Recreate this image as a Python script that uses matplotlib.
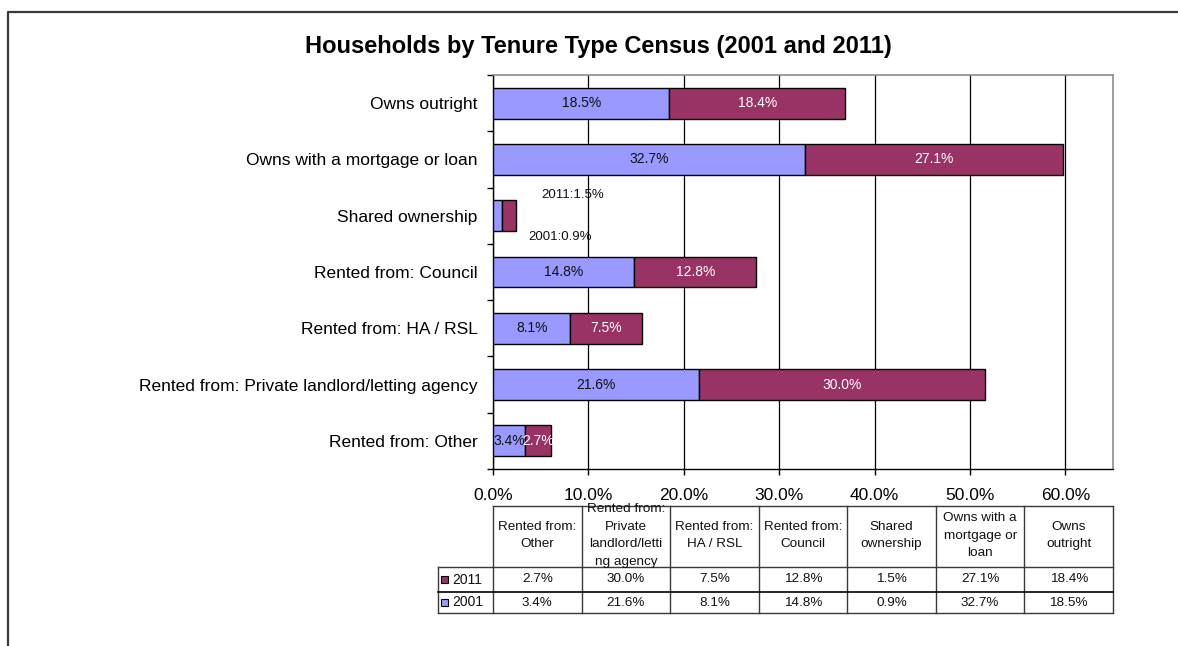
import matplotlib
matplotlib.use("Agg")
import matplotlib.pyplot as plt
from matplotlib.patches import Rectangle
import numpy as np

plt.rcParams['font.family'] = ['Liberation Sans', 'DejaVu Sans']

# ---- data -------------------------------------------------------------
categories = ["Owns outright", "Owns with a mortgage or loan", "Shared ownership",
              "Rented from: Council", "Rented from: HA / RSL",
              "Rented from: Private landlord/letting agency", "Rented from: Other"]
share_2001 = [18.5, 32.7, 0.9, 14.8, 8.1, 21.6, 3.4]
share_2011 = [18.4, 27.1, 1.5, 12.8, 7.5, 30.0, 2.7]
years = ["2011", "2001"]
table_headers = ["Rented from:\nOther",
                 "Rented from:\nPrivate\nlandlord/letti\nng agency",
                 "Rented from:\nHA / RSL", "Rented from:\nCouncil",
                 "Shared\nownership", "Owns with a\nmortgage or\nloan",
                 "Owns\noutright"]
x_ticks = [0, 10, 20, 30, 40, 50, 60]
x_max = 65

BLUE = "#9999FF"
MAROON = "#993366"
COLORS = {"2001": BLUE, "2011": MAROON}

W, H = 1178, 646
fig = plt.figure(figsize=(W / 100, H / 100), dpi=100)


def fx(px):
    return px / W


def fy(py):
    return 1 - py / H


# ---- bar chart --------------------------------------------------------
ax = fig.add_axes([fx(493), fy(469), (1113 - 493) / W, (469 - 75) / H])
ypos = np.arange(len(categories))
ax.barh(ypos, share_2001, height=0.55, color=BLUE, edgecolor='black',
        linewidth=1, zorder=3)
ax.barh(ypos, share_2011, left=share_2001, height=0.55, color=MAROON,
        edgecolor='black', linewidth=1, zorder=3)
ax.set_xlim(0, x_max)
ax.set_ylim(len(categories) - 0.5, -0.5)

ax.set_axisbelow(True)
ax.set_xticks(x_ticks)
ax.set_xticklabels([f"{v:.1f}%" for v in x_ticks], fontsize=12.5)
ax.xaxis.grid(True, color='black', linewidth=0.9)
ax.tick_params(axis='x', direction='out', length=4, width=1, pad=10,
               color='black')

ax.set_yticks(ypos)
ax.set_yticklabels(categories, fontsize=12.5)
ax.tick_params(axis='y', which='major', length=0, pad=11)
ax.set_yticks(np.arange(len(categories) + 1) - 0.5, minor=True)
ax.tick_params(axis='y', which='minor', direction='out', length=4, width=1)

for side in ('top', 'right'):
    ax.spines[side].set_color('#8c8c8c')
    ax.spines[side].set_linewidth(1.2)
for side in ('left', 'bottom'):
    ax.spines[side].set_color('black')
    ax.spines[side].set_linewidth(1)

# value labels
for i, (a, b) in enumerate(zip(share_2001, share_2011)):
    if a >= 2 and b >= 2:
        ax.text(a / 2, i, f"{a:.1f}%", ha='center', va='center',
                fontsize=10, color='#111111', zorder=4)
        ax.text(a + b / 2, i, f"{b:.1f}%", ha='center', va='center',
                fontsize=10, color='white', zorder=4)
    else:
        ax.annotate(f"2011:{b:.1f}%", xy=(a + b, i), xytext=(18, 15),
                    textcoords='offset points', ha='left', va='center',
                    fontsize=9.5, color='#111111')
        ax.annotate(f"2001:{a:.1f}%", xy=(a + b, i), xytext=(9, -15),
                    textcoords='offset points', ha='left', va='center',
                    fontsize=9.5, color='#111111')

fig.text(fx(598), fy(47), "Households by Tenure Type Census (2001 and 2011)",
         ha='center', va='center', fontsize=17, fontweight='bold')

# ---- overlay: outer frame and data table ------------------------------
ov = fig.add_axes([0, 0, 1, 1])
ov.set_xlim(0, W)
ov.set_ylim(H, 0)
ov.axis('off')

ov.plot([8, 8, W], [H, 12, 12], color='#3a3a3a', linewidth=1.6,
        solid_capstyle='butt')

bbox = ax.get_position()
col_edges = np.linspace(bbox.x0 * W, bbox.x1 * W, len(categories) + 1)
t_top, t_head, t_r1, t_r2 = 506, 567, 592, 613
lab_left = 438
line_kw = dict(color='#3a3a3a', linewidth=1)

ov.plot([col_edges[0], col_edges[-1]], [t_top, t_top], **line_kw)
for xe in col_edges:
    ov.plot([xe, xe], [t_top, t_r2], **line_kw)
ov.plot([lab_left, lab_left], [t_head, t_r2], **line_kw)
ov.plot([lab_left, col_edges[-1]], [t_head, t_head], **line_kw)
ov.plot([lab_left, col_edges[-1]], [t_r1, t_r1], color='black', linewidth=1.2)
ov.plot([lab_left, col_edges[-1]], [t_r2, t_r2], **line_kw)

table_values = {"2011": share_2011[::-1], "2001": share_2001[::-1]}
centers = (col_edges[:-1] + col_edges[1:]) / 2
for j, head in enumerate(table_headers):
    t = ov.text(centers[j], (t_top + t_head) / 2 - 1, head, ha='center',
                va='center', fontsize=9.7, linespacing=1.65, color='#111111')
    clip = Rectangle((col_edges[j], t_top), col_edges[j + 1] - col_edges[j],
                     t_head - t_top, transform=ov.transData, visible=False)
    ov.add_patch(clip)
    t.set_clip_path(clip)

row_bounds = {"2011": (t_head, t_r1), "2001": (t_r1, t_r2)}
for yr in years:
    r0, r1 = row_bounds[yr]
    yc = (r0 + r1) / 2
    ov.add_patch(Rectangle((441, yc - 3.5), 7, 7, facecolor=COLORS[yr],
                           edgecolor='black', linewidth=0.8))
    ov.text(452, yc, yr, ha='left', va='center', fontsize=10,
            color='#111111')
    for j, v in enumerate(table_values[yr]):
        ov.text(centers[j], yc, f"{v:.1f}%", ha='center', va='center',
                fontsize=9.7, color='#111111')

fig.savefig("out.png", dpi=100)
